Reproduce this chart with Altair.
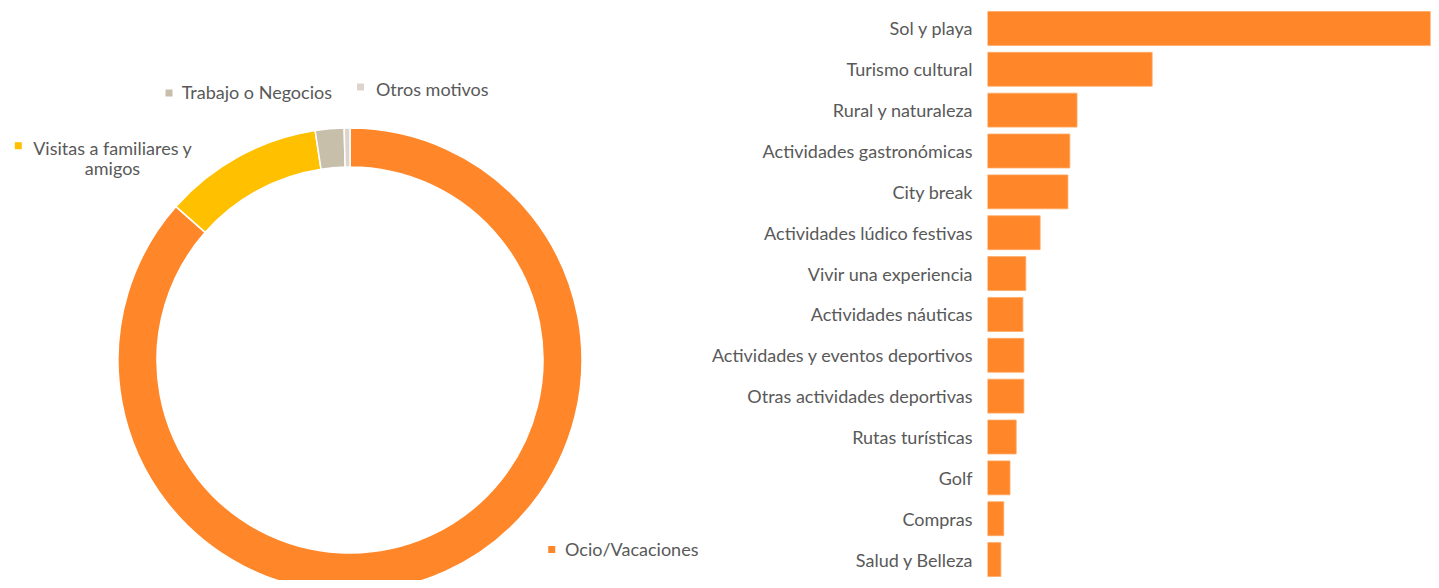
import altair as alt
import pandas as pd

# ---------------- data ----------------
motivos = ["Ocio/Vacaciones", "Visitas a familiares y amigos", "Trabajo o Negocios", "Otros motivos"]
motivos_etiqueta = ["Ocio/Vacaciones", "Visitas a familiares y\namigos", "Trabajo o Negocios", "Otros motivos"]
motivos_pct = [86.5, 11.1, 2.0, 0.4]
motivos_colores = ["#FF8629", "#FFC000", "#C8BFAB", "#DDD4CD"]

actividades = [
    "Sol y playa", "Turismo cultural", "Rural y naturaleza", "Actividades gastronómicas",
    "City break", "Actividades lúdico festivas", "Vivir una experiencia", "Actividades náuticas",
    "Actividades y eventos deportivos", "Otras actividades deportivas", "Rutas turísticas",
    "Golf", "Compras", "Salud y Belleza",
]
actividades_pct = [47.0, 17.2, 9.35, 8.6, 8.4, 5.5, 4.0, 3.7, 3.8, 3.8, 3.0, 2.35, 1.7, 1.4]

df_m = pd.DataFrame({"motivo": motivos, "etiqueta": motivos_etiqueta,
                     "pct": motivos_pct, "orden": list(range(len(motivos)))})
df_a = pd.DataFrame({"actividad": actividades, "pct": actividades_pct})

FONT = "Lato"
TXT = "#595959"
FS = 18

color_scale = alt.Scale(domain=motivos, range=motivos_colores)

# ---------------- donut ----------------
arc = alt.Chart(df_m).mark_arc(
    innerRadius=193, outerRadius=232, stroke="white", strokeWidth=1.5, clip=True
).encode(
    theta=alt.Theta("pct:Q", stack=True),
    order=alt.Order("orden:Q"),
    color=alt.Color("motivo:N", scale=color_scale, legend=None),
    x=alt.value(342),
    y=alt.value(352),
)

# label placement: motivo -> (marker x, marker y, text x, text y, align)
label_pos = {
    "Ocio/Vacaciones": (543.7, 541.5, 557, 548, "left"),
    "Visitas a familiares y amigos": (10.3, 137.7, 104.5, 147, "center"),
    "Trabajo o Negocios": (161, 85, 173.7, 91.3, "left"),
    "Otros motivos": (352.5, 79, 368, 88, "left"),
}

layers = [arc]
for m, (mx, my, tx, ty, al) in label_pos.items():
    base = alt.Chart(df_m).transform_filter(alt.datum.motivo == m)
    layers.append(
        base.mark_square(size=49, opacity=1, filled=True).encode(
            x=alt.value(mx), y=alt.value(my),
            color=alt.Color("motivo:N", scale=color_scale, legend=None),
        )
    )
    layers.append(
        base.mark_text(font=FONT, fontSize=FS, color=TXT, align=al, baseline="alphabetic",
                       lineBreak="\n", lineHeight=19.5).encode(
            x=alt.value(tx), y=alt.value(ty), text="etiqueta:N",
        )
    )

donut = alt.layer(*layers).properties(width=684, height=572)

# ---------------- bars ----------------
BAR_W = 443
bars = alt.Chart(df_a).mark_bar(
    color="#FF8629", stroke="#FFAA66", strokeWidth=0.8, clip=True
).encode(
    y=alt.Y("actividad:N", sort=actividades,
            scale=alt.Scale(paddingInner=0.17, paddingOuter=0.085),
            axis=alt.Axis(title=None, domain=False, ticks=False, labelPadding=15.5,
                          labelOffset=2,
                          labelFont=FONT, labelFontSize=FS, labelColor=TXT, labelLimit=500)),
    x=alt.X("pct:Q", scale=alt.Scale(domain=[0, 47 * BAR_W / 450], nice=False, zero=True),
            axis=None),
).properties(width=BAR_W, height=572)

chart = alt.hconcat(donut, bars, spacing=295.5, bounds="flush").properties(
    padding=0
).configure_view(strokeWidth=0)

chart.save("out.html", embed_options={"renderer": "svg", "actions": False})
